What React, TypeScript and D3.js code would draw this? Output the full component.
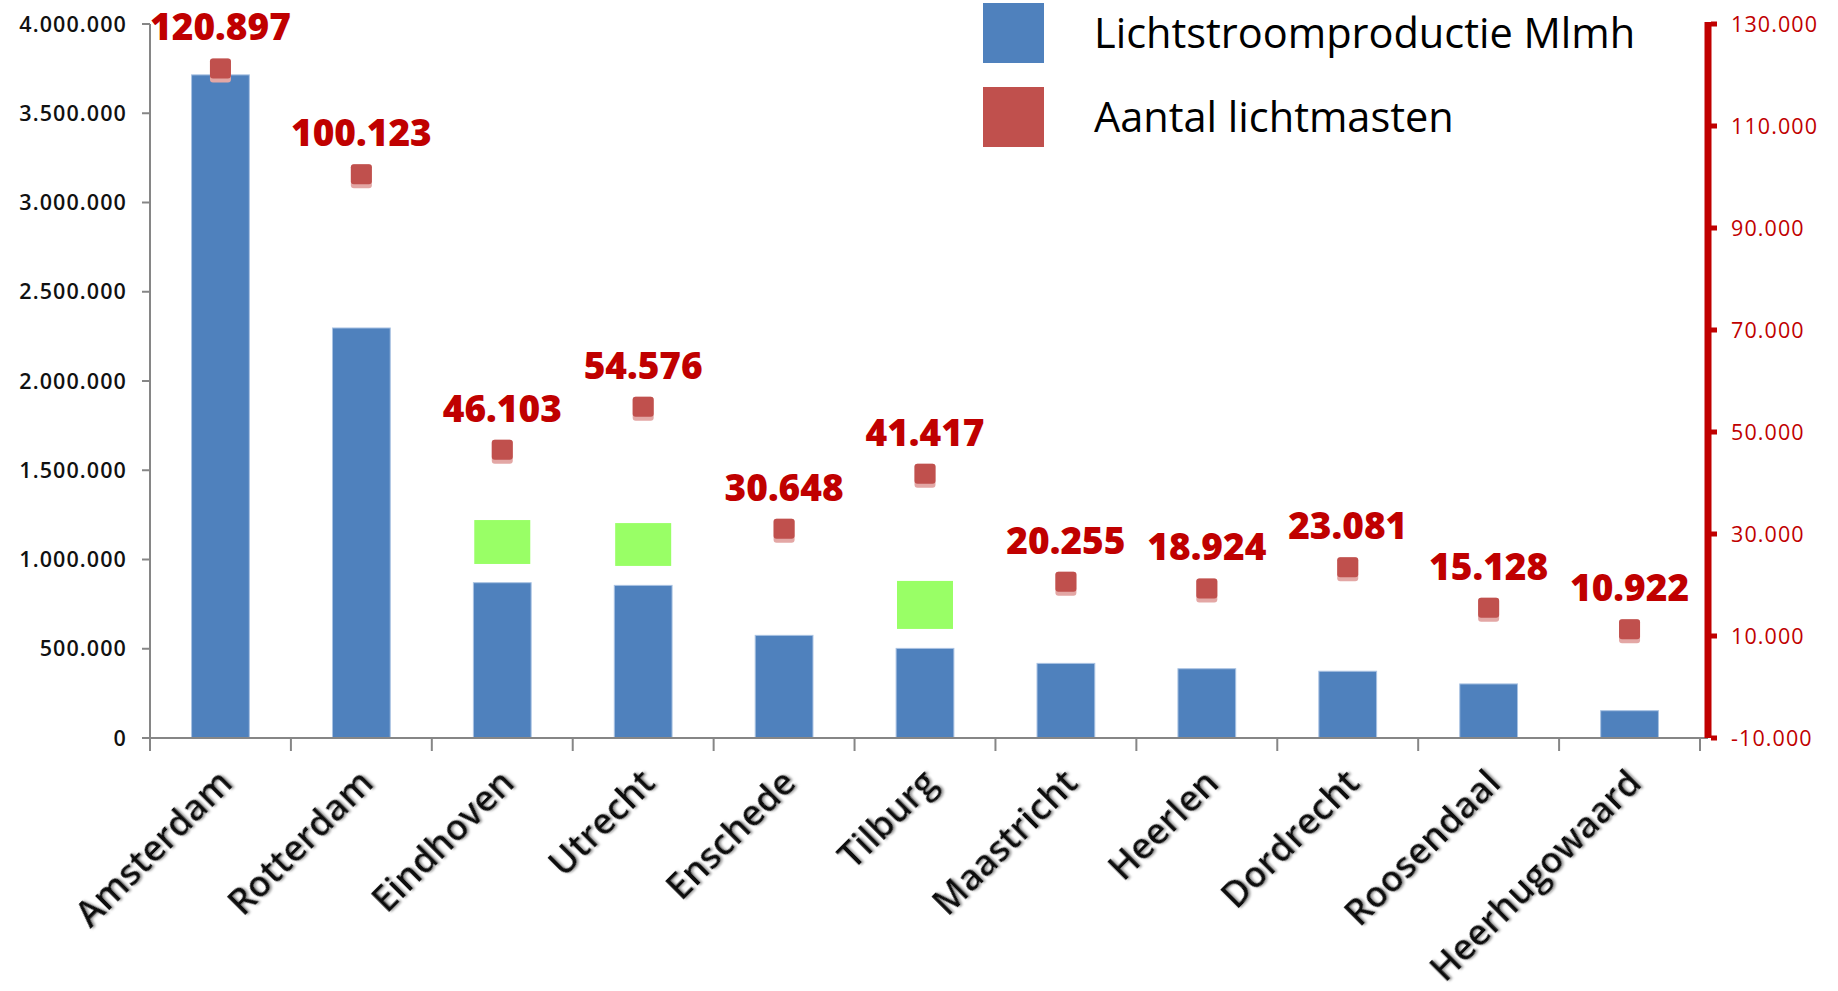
import React from 'react';
import * as d3 from 'd3';

const cities = [
  'Amsterdam',
  'Rotterdam',
  'Eindhoven',
  'Utrecht',
  'Enschede',
  'Tilburg',
  'Maastricht',
  'Heerlen',
  'Dordrecht',
  'Roosendaal',
  'Heerhugowaard',
];
// Lichtstroomproductie (Mlmh)
const lichtstroom = [3715000, 2297000, 870000, 855000, 575000, 502000, 418000, 388000, 374000, 303000, 153000];
// Aantal lichtmasten, from the data labels
const lichtmasten = [120897, 100123, 46103, 54576, 30648, 41417, 20255, 18924, 23081, 15128, 10922];

// green highlight boxes (on the left axis scale)
const highlightCities = ['Eindhoven', 'Utrecht', 'Tilburg'];
const highlightFrom = [975000, 964000, 611000];
const highlightTo = [1221000, 1204000, 880000];

const leftTicks = [0, 500000, 1000000, 1500000, 2000000, 2500000, 3000000, 3500000, 4000000];
const rightTicks = [-10000, 10000, 30000, 50000, 70000, 90000, 110000, 130000];
const legendLabels = ['Lichtstroomproductie Mlmh', 'Aantal lichtmasten'];

const nl = d3.formatLocale({
  decimal: ',',
  thousands: '.',
  grouping: [3],
  currency: ['€', ''],
  minus: '-',
});
const fmt = nl.format(',d');

const W = 1838;
const H = 991;

const Chart: React.FC = () => {
  const svgRef = React.useRef<SVGSVGElement | null>(null);

  React.useEffect(() => {
    const svg = d3.select(svgRef.current);
    svg.selectAll('*').remove();

    const x0 = 150;
    const x1 = 1700;
    const yBottom = 738;
    const yTop = 24;
    const rightX = 1708;

    const x = d3.scaleBand<string>().domain(cities).range([x0, x1]).padding(0);
    const yL = d3.scaleLinear().domain([0, 4000000]).range([yBottom, yTop]);
    const yR = d3.scaleLinear().domain([-10000, 130000]).range([yBottom, yTop]);
    const cx = (c: string) => (x(c) || 0) + x.bandwidth() / 2;
    const barW = x.bandwidth() * 0.41;

    const defs = svg.append('defs');
    const f = defs.append('filter').attr('id', 'lblShadow').attr('x', '-10%').attr('y', '-10%').attr('width', '130%').attr('height', '130%');
    f.append('feDropShadow')
      .attr('dx', 1.5)
      .attr('dy', 1.5)
      .attr('stdDeviation', 1)
      .attr('flood-color', '#8a8a8a')
      .attr('flood-opacity', 0.9);

    // bars
    svg
      .append('g')
      .selectAll('rect')
      .data(lichtstroom)
      .join('rect')
      .attr('x', (_, i) => cx(cities[i]) - barW / 2)
      .attr('width', barW)
      .attr('y', (d) => yL(d))
      .attr('height', (d) => yBottom - yL(d))
      .attr('fill', '#4F81BD')
      .attr('stroke', '#A9C2E2')
      .attr('stroke-width', 1);

    // green highlight boxes
    svg
      .append('g')
      .selectAll('rect')
      .data(highlightCities)
      .join('rect')
      .attr('x', (c) => cx(c) - 28)
      .attr('width', 56)
      .attr('y', (_, i) => yL(highlightTo[i]))
      .attr('height', (_, i) => yL(highlightFrom[i]) - yL(highlightTo[i]))
      .attr('fill', '#99FF66');

    // left axis
    const gl = svg.append('g');
    gl.append('line')
      .attr('x1', x0).attr('x2', x0)
      .attr('y1', yTop).attr('y2', yBottom)
      .attr('stroke', '#868686').attr('stroke-width', 2);
    gl.selectAll('line.tick')
      .data(leftTicks)
      .join('line')
      .attr('class', 'tick')
      .attr('x1', x0 - 8).attr('x2', x0)
      .attr('y1', (d) => yL(d)).attr('y2', (d) => yL(d))
      .attr('stroke', '#868686').attr('stroke-width', 2);
    gl.selectAll('text')
      .data(leftTicks)
      .join('text')
      .attr('x', 127)
      .attr('y', (d) => yL(d))
      .attr('dy', '0.36em')
      .attr('text-anchor', 'end')
      .attr('font-family', 'Open Sans')
      .attr('font-weight', 600)
      .attr('font-size', 21.5)
      .attr('letter-spacing', 1.1)
      .attr('fill', '#111')
      .text((d) => fmt(d));

    // x axis
    const gx = svg.append('g');
    gx.append('line')
      .attr('x1', x0 - 8).attr('x2', rightX)
      .attr('y1', yBottom).attr('y2', yBottom)
      .attr('stroke', '#868686').attr('stroke-width', 2);
    const bounds = cities.map((c) => x(c) || 0).concat([x1]);
    gx.selectAll('line.tick')
      .data(bounds)
      .join('line')
      .attr('class', 'tick')
      .attr('x1', (d) => d).attr('x2', (d) => d)
      .attr('y1', yBottom).attr('y2', yBottom + 13)
      .attr('stroke', '#868686').attr('stroke-width', 2);
    gx.selectAll('text')
      .data(cities)
      .join('text')
      .attr('transform', (c) => `translate(${cx(c) + 14},${yBottom + 47}) rotate(-45)`)
      .attr('text-anchor', 'end')
      .attr('font-family', 'Open Sans')
      .attr('font-weight', 600)
      .attr('font-size', 36)
      .attr('fill', '#111')
      .attr('filter', 'url(#lblShadow)')
      .text((c) => c);

    // right axis
    const gr = svg.append('g');
    gr.append('line')
      .attr('x1', rightX).attr('x2', rightX)
      .attr('y1', yTop - 2).attr('y2', yBottom)
      .attr('stroke', '#C00000').attr('stroke-width', 7);
    gr.selectAll('rect')
      .data(rightTicks)
      .join('rect')
      .attr('x', rightX + 3)
      .attr('y', (d) => yR(d) - 2.5)
      .attr('width', 6)
      .attr('height', 5)
      .attr('fill', '#C00000');
    gr.selectAll('text')
      .data(rightTicks)
      .join('text')
      .attr('x', 1731)
      .attr('y', (d) => yR(d))
      .attr('dy', '0.36em')
      .attr('font-family', 'Open Sans')
      .attr('font-size', 21.5)
      .attr('letter-spacing', 1.1)
      .attr('fill', '#C00000')
      .text((d) => fmt(d));

    // markers
    const gm = svg.append('g');
    gm.selectAll('rect.mk')
      .data(lichtmasten)
      .join('rect')
      .attr('class', 'mk')
      .attr('x', (_, i) => cx(cities[i]) - 10.5)
      .attr('y', (d) => yR(d) - 12)
      .attr('width', 21)
      .attr('height', 24)
      .attr('rx', 3)
      .attr('fill', '#E3A7A5');
    gm.selectAll('rect.mk2')
      .data(lichtmasten)
      .join('rect')
      .attr('class', 'mk2')
      .attr('x', (_, i) => cx(cities[i]) - 10.5)
      .attr('y', (d) => yR(d) - 12)
      .attr('width', 21)
      .attr('height', 20)
      .attr('rx', 3)
      .attr('fill', '#C0504D');

    // data labels
    svg
      .append('g')
      .selectAll('text')
      .data(lichtmasten)
      .join('text')
      .attr('x', (_, i) => cx(cities[i]))
      .attr('y', (d) => yR(d) - 30)
      .attr('text-anchor', 'middle')
      .attr('font-family', 'Open Sans')
      .attr('font-weight', 800)
      .attr('font-size', 37)
      .attr('fill', '#C00000')
      .text((d) => fmt(d));

    // legend
    const colors = ['#4F81BD', '#C0504D'];
    const lg = svg.append('g');
    lg.selectAll('rect')
      .data(legendLabels)
      .join('rect')
      .attr('x', 983)
      .attr('y', (_, i) => 3 + i * 84)
      .attr('width', 61)
      .attr('height', 60)
      .attr('fill', (_, i) => colors[i]);
    lg.selectAll('text')
      .data(legendLabels)
      .join('text')
      .attr('x', 1094)
      .attr('y', (_, i) => 48 + i * 84)
      .attr('font-family', 'Open Sans')
      .attr('font-size', 41.5)
      .attr('fill', '#000')
      .text((d) => d);
  }, []);

  return <svg ref={svgRef} width={W} height={H} style={{ display: 'block', background: '#fff' }} />;
};

export default function App() {
  return (
    <div style={{ position: 'absolute', left: 0, top: 0 }}>
      <Chart />
    </div>
  );
}
